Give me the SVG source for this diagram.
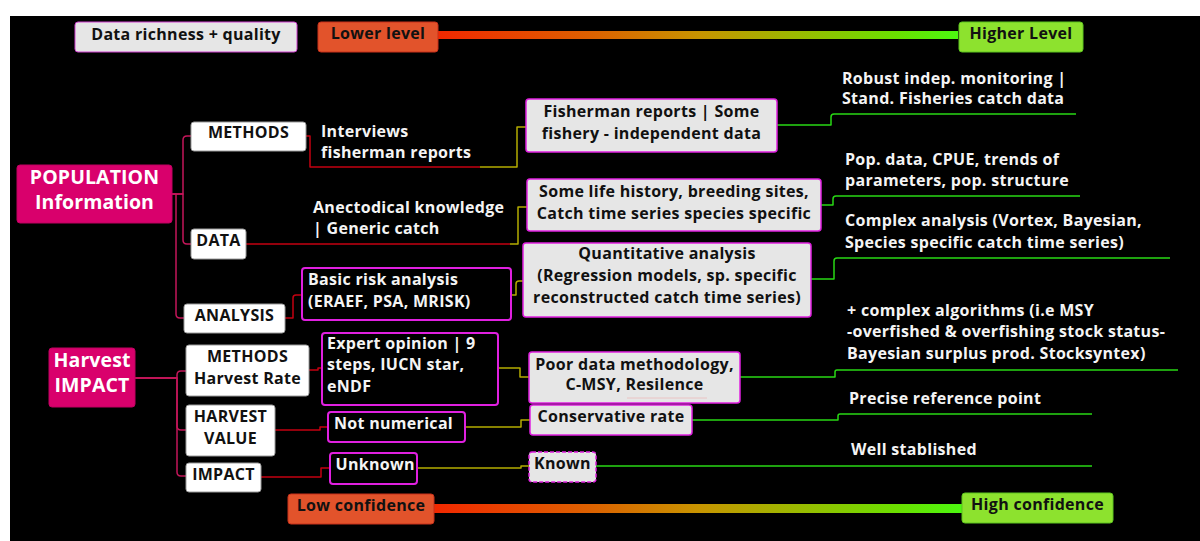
<svg xmlns="http://www.w3.org/2000/svg" width="1200" height="541" viewBox="0 0 1200 541">
<defs>
<linearGradient id="bar" x1="0" y1="0" x2="1" y2="0">
<stop offset="0" stop-color="#f22800"/>
<stop offset="0.3" stop-color="#dc6200"/>
<stop offset="0.5" stop-color="#c89400"/>
<stop offset="0.7" stop-color="#98bc00"/>
<stop offset="0.88" stop-color="#6ae000"/>
<stop offset="1" stop-color="#4cf810"/>
</linearGradient>
<style>
text{font-family:"Open Sans",Lato,"Liberation Sans",sans-serif;font-weight:700;font-size:16px;letter-spacing:0.3px}
.dk{fill:#111}
.wt{fill:#f4f4f4}
.c{text-anchor:middle}
.big{font-size:19.5px;letter-spacing:0.1px;fill:#fff;text-anchor:middle}
.wbox{fill:#ffffff;stroke:#9a9a9a;stroke-width:1}
.gbox{fill:#e6e6e6;stroke:#e020e0;stroke-width:1.5}
.bbox{fill:#000;stroke:#e020e0;stroke-width:2}
.main{fill:#d9006c;stroke:#c00060;stroke-width:1}
.lo{fill:#e2532b;stroke:#c8301a;stroke-width:1}
.hi{fill:#8de22e;stroke:#5cc41e;stroke-width:1}
.cn{fill:none;stroke-width:1.5;stroke-linejoin:round}
.pk{stroke:#c4165a}
.rd{stroke:#c40010}
.yl{stroke:#b4ac00}
.gr{stroke:#28d814}
</style>
</defs>
<rect x="0" y="0" width="1200" height="541" fill="#ffffff"/>
<rect x="10" y="16" width="1190" height="525" fill="#000000"/>

<g id="legend-top">
<rect x="75" y="22" width="222" height="30" rx="3" fill="#e6e6e6" stroke="#d040d0" stroke-width="1"/>
<text x="186" y="39.5" class="dk c">Data richness + quality</text>
<rect x="438" y="31" width="520" height="8" fill="url(#bar)"/>
<rect x="318" y="22" width="120" height="30" rx="3" class="lo"/>
<text x="378" y="39" class="dk c">Lower level</text>
<rect x="959" y="22" width="124" height="30" rx="3" class="hi"/>
<text x="1021" y="39" class="dk c">Higher Level</text>
</g>

<g id="legend-bottom">
<rect x="434" y="504" width="528" height="9" fill="url(#bar)"/>
<rect x="288" y="494" width="146" height="30" rx="3" class="lo"/>
<text x="361" y="511" class="dk c">Low confidence</text>
<rect x="962" y="493" width="151" height="30" rx="3" class="hi"/>
<text x="1037.5" y="510" class="dk c">High confidence</text>
</g>

<g id="connectors">
<path class="cn pk" d="M172,194 H183 V140 Q183,136 187,136 H191"/>
<path class="cn pk" d="M172,194 H183 V240 Q183,244 187,244 H191"/>
<path class="cn pk" d="M172,194 H176 V314 Q176,318 180,318 H184"/>
<path class="cn pk" d="M135,378 H177 V375 Q177,371 181,371 H186"/>
<path class="cn pk" d="M135,378 H177 V426 Q177,430 181,430 H186"/>
<path class="cn pk" d="M135,378 H177 V472 Q177,476 181,476 H186"/>

<path class="cn rd" d="M306,136 H310 V167 H480"/>
<path class="cn yl" d="M480,167 H517 V127 H526"/>
<path class="cn rd" d="M246,244 H510"/>
<path class="cn yl" d="M510,244 H518 V207 H527"/>
<path class="cn rd" d="M285,318 H293 V298 Q293,295 296,295 H302"/>
<path class="cn yl" d="M511,295 H516 V284 Q516,281 519,281 H523"/>
<path class="cn rd" d="M309,370 H318 V368 H322"/>
<path class="cn yl" d="M498,368 H520 V377 H529"/>
<path class="cn rd" d="M275,430 H320 V427 H328"/>
<path class="cn yl" d="M465,427 H521 V420 H530"/>
<path class="cn rd" d="M261,477 H321 V468 H330"/>
<path class="cn yl" d="M417,468 H521 V466 H529"/>

<path class="cn gr" d="M777,125 H831 V117 Q831,114 834,114 H1076"/>
<path class="cn gr" d="M821,205 H833 V199 Q833,196 836,196 H1080"/>
<path class="cn gr" d="M811,279 H834 V261 Q834,258 837,258 H1170"/>
<path class="cn gr" d="M740,377 H835 V372 Q835,370 837,370 H1178"/>
<path class="cn gr" d="M692,420 H838 V416 Q838,414 840,414 H1092"/>
<path class="cn gr" d="M596,466 H1092"/>
</g>

<g id="population">
<rect x="17" y="165" width="155" height="58" rx="3" class="main"/>
<text x="94.5" y="183.5" class="big">POPULATION</text>
<text x="94.5" y="208.5" class="big">Information</text>
</g>
<g id="harvest-impact">
<rect x="49" y="348" width="86" height="59" rx="3" class="main"/>
<text x="92" y="367" class="big">Harvest</text>
<text x="92" y="392" class="big">IMPACT</text>
</g>

<g id="methods">
<rect x="191" y="122" width="115" height="29" rx="3" class="wbox"/>
<text x="248.5" y="138" class="dk c">METHODS</text>
</g>
<g id="data">
<rect x="191" y="229" width="55" height="30" rx="3" class="wbox"/>
<text x="218.5" y="246" class="dk c">DATA</text>
</g>
<g id="analysis">
<rect x="184" y="304" width="101" height="29" rx="3" class="wbox"/>
<text x="234.5" y="321" class="dk c">ANALYSIS</text>
</g>
<g id="methods-harvest-rate">
<rect x="186" y="345" width="123" height="51" rx="3" class="wbox"/>
<text x="247.5" y="362" class="dk c">METHODS</text>
<text x="247.5" y="383.5" class="dk c">Harvest Rate</text>
</g>
<g id="harvest-value">
<rect x="186" y="405" width="89" height="51" rx="3" class="wbox"/>
<text x="230.5" y="422" class="dk c">HARVEST</text>
<text x="230.5" y="443.5" class="dk c">VALUE</text>
</g>
<g id="impact">
<rect x="186" y="463" width="75" height="29" rx="3" class="wbox"/>
<text x="223.5" y="480" class="dk c">IMPACT</text>
</g>

<g id="interviews">
<text x="321" y="137" class="wt">Interviews</text>
<text x="321" y="158" class="wt">fisherman reports</text>
</g>
<g id="anecdotal">
<text x="313" y="213" class="wt">Anectodical knowledge</text>
<text x="313" y="234" class="wt">| Generic catch</text>
</g>
<g id="basic-risk">
<rect x="302" y="268" width="209" height="52" rx="3" class="bbox"/>
<text x="308" y="284.5" class="wt">Basic risk analysis</text>
<text x="308" y="306.5" class="wt">(ERAEF, PSA, MRISK)</text>
</g>
<g id="expert-opinion">
<rect x="322" y="333" width="176" height="72" rx="3" class="bbox"/>
<text x="327" y="348.5" class="wt">Expert opinion | 9</text>
<text x="327" y="369.5" class="wt">steps, IUCN star,</text>
<text x="327" y="391.5" class="wt">eNDF</text>
</g>
<g id="not-numerical">
<rect x="328" y="412" width="137" height="30" rx="3" class="bbox"/>
<text x="334" y="428.5" class="wt">Not numerical</text>
</g>
<g id="unknown">
<rect x="330" y="453" width="87" height="31" rx="3" class="bbox"/>
<text x="335.5" y="470" class="wt">Unknown</text>
</g>

<g id="fisherman-reports">
<rect x="526" y="99" width="251" height="53" rx="3" class="gbox"/>
<text x="651.5" y="117" class="dk c">Fisherman reports | Some</text>
<text x="651.5" y="139" class="dk c">fishery - independent data</text>
</g>
<g id="life-history">
<rect x="527" y="179" width="294" height="52" rx="3" class="gbox"/>
<text x="674" y="196.5" class="dk c">Some life history, breeding sites,</text>
<text x="674" y="218.5" class="dk c">Catch time series species specific</text>
</g>
<g id="quantitative">
<rect x="523" y="243" width="288" height="74" rx="3" class="gbox"/>
<text x="667" y="258.5" class="dk c">Quantitative analysis</text>
<text x="667" y="280.5" class="dk c">(Regression models, sp. specific</text>
<text x="667" y="302.5" class="dk c">reconstructed catch time series)</text>
</g>
<g id="poor-data">
<rect x="529" y="352" width="211" height="51" rx="3" class="gbox"/>
<text x="634.5" y="370" class="dk c">Poor data methodology,</text>
<text x="634.5" y="390" class="dk c">C-MSY, Resilence</text>
<line x1="627" y1="398" x2="707" y2="398" stroke="#f0a8a8" stroke-width="0.8" opacity="0.7"/>
</g>
<g id="conservative-rate">
<rect x="530" y="405" width="162" height="30" rx="3" class="gbox"/>
<text x="611" y="422" class="dk c">Conservative rate</text>
</g>
<g id="known">
<rect x="529" y="452" width="67" height="30" rx="3" class="gbox" stroke-dasharray="4 2"/>
<text x="562.5" y="468.5" class="dk c">Known</text>
</g>

<g id="robust">
<text x="842" y="83.5" class="wt">Robust indep. monitoring |</text>
<text x="842" y="104" class="wt">Stand. Fisheries catch data</text>
</g>
<g id="pop-data">
<text x="845" y="165" class="wt">Pop. data, CPUE, trends of</text>
<text x="845" y="186" class="wt">parameters, pop. structure</text>
</g>
<g id="complex-analysis">
<text x="845" y="226" class="wt">Complex analysis (Vortex, Bayesian,</text>
<text x="845" y="247.5" class="wt">Species specific catch time series)</text>
</g>
<g id="complex-algorithms">
<text x="847" y="316" class="wt">+ complex algorithms (i.e MSY</text>
<text x="847" y="337" class="wt">-overfished &amp; overfishing stock status-</text>
<text x="847" y="359" class="wt">Bayesian surplus prod. Stocksyntex)</text>
</g>
<g id="precise">
<text x="849" y="404" class="wt">Precise reference point</text>
</g>
<g id="well-established">
<text x="851" y="455" class="wt">Well stablished</text>
</g>
</svg>
